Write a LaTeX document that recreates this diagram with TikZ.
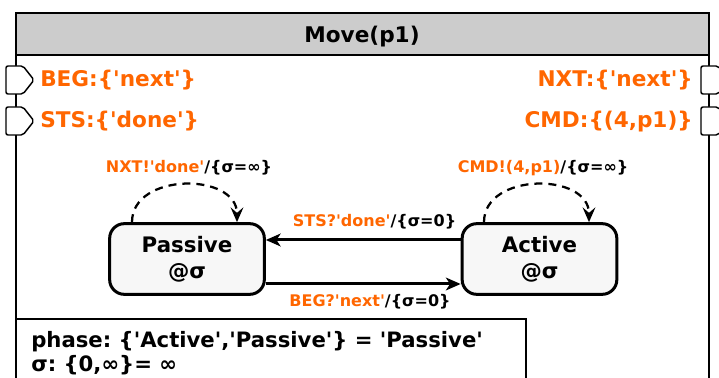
\documentclass[tikz,border=0pt]{standalone}
\usepackage{fontspec}
\setmainfont{DejaVu Sans}[Ligatures=TeXOff]
\usetikzlibrary{arrows.meta,calc}
\definecolor{org}{HTML}{FF6600}
\definecolor{hdr}{HTML}{CCCCCC}
\definecolor{stfill}{HTML}{F7F7F7}
\frenchspacing
\begin{document}
\begin{tikzpicture}[x=0.75pt,y=-0.75pt,
  titlestyle/.style={font=\fontsize{16.2}{19}\selectfont\bfseries, inner sep=0pt},
  portlbl/.style={font=\fontsize{16.2}{18}\selectfont\bfseries, text=org, inner sep=0pt},
  statebox/.style={draw, line width=2.25pt, fill=stfill, rounded corners=11pt, minimum width=116pt, minimum height=53pt, align=center, inner sep=0pt, font=\fontsize{16}{19.5}\selectfont\bfseries},
  elbl/.style={font=\fontsize{12}{14}\selectfont\bfseries, inner sep=0pt},
  varlbl/.style={font=\fontsize{15.9}{18}\selectfont\bfseries, inner sep=0pt, anchor=base west},
  port/.style={draw, line width=1.1pt, fill=white, rounded corners=1.5pt, line join=round},
  frame/.style={draw, line width=1.5pt},
  trans/.style={line width=2.25pt, -{Stealth[length=11pt,width=9.5pt,inset=3pt]}},
  loopar/.style={line width=1.7pt, dash pattern=on 6pt off 4.5pt, -{Stealth[length=11pt,width=9.5pt,inset=4pt]}},
]
\useasboundingbox (0,0) rectangle (719,378);
\clip (0,0) rectangle (719,378);
% outer frame and header
\draw[frame, fill=white] (16,13) rectangle (709,420);
\draw[frame, fill=hdr] (16,13) rectangle (709,55);
\node[titlestyle, anchor=base] (title) at (362,43) {Move(p1)};
% ports
\draw[port] (6,66) -- (23,66) -- (34,80) -- (23,94) -- (6,94) -- cycle;
\draw[port] (6,107) -- (23,107) -- (34,121) -- (23,135) -- (6,135) -- cycle;
\draw[port] (701,66) -- (718,66) -- (729,80) -- (718,94) -- (701,94) -- cycle;
\draw[port] (701,107) -- (718,107) -- (729,121) -- (718,135) -- (701,135) -- cycle;
\node[portlbl, anchor=base west] (beg) at (40,87) {BEG:\{'next'\}};
\node[portlbl, anchor=base west] (sts) at (40,128) {STS:\{'done'\}};
\node[portlbl, anchor=base east] (nxt) at (693,87) {NXT:\{'next'\}};
\node[portlbl, anchor=base east] (cmd) at (693,128) {CMD:\{(4,p1)\}};
% states
\node[statebox] (passive) at (187,259) {Passive\\@σ};
\node[statebox] (active) at (539.5,259) {Active\\@σ};
% transitions
\draw[trans] ($(active.west)+(0,-19)$) -- ($(passive.east)+(0,-19)$);
\draw[trans] ($(passive.east)+(0,25)$) -- ($(active.west)+(0,25)$);
\node[elbl, anchor=base] (lsts) at (374.5,227) {\textcolor{org}{STS?'done'}/\{σ=0\}};
\node[elbl, anchor=base] (lbeg) at (370,306) {\textcolor{org}{BEG?'next'}/\{σ=0\}};
% self loops
\draw[loopar] ($(passive.north)+(-55,0)$) .. controls +(0,-50) and +(0,-50) .. ($(passive.north)+(50,0)$);
\draw[loopar] ($(active.north)+(-55.5,0)$) .. controls +(0,-50) and +(0,-50) .. ($(active.north)+(49.5,0)$);
\node[elbl, anchor=base] (lnxt) at (189,173) {\textcolor{org}{NXT!'done'}/\{σ=∞\}};
\node[elbl, anchor=base] (lcmd) at (543,173) {\textcolor{org}{CMD!(4,p1)}/\{σ=∞\}};
% variables box
\draw[frame, fill=white] (16,319) rectangle (526,420);
\node[varlbl] (var1) at (31,347) {phase: \{'Active','Passive'\} = 'Passive'};
\node[varlbl] (var2) at (31,372) {σ: \{0,∞\}= ∞};
\end{tikzpicture}
\end{document}
